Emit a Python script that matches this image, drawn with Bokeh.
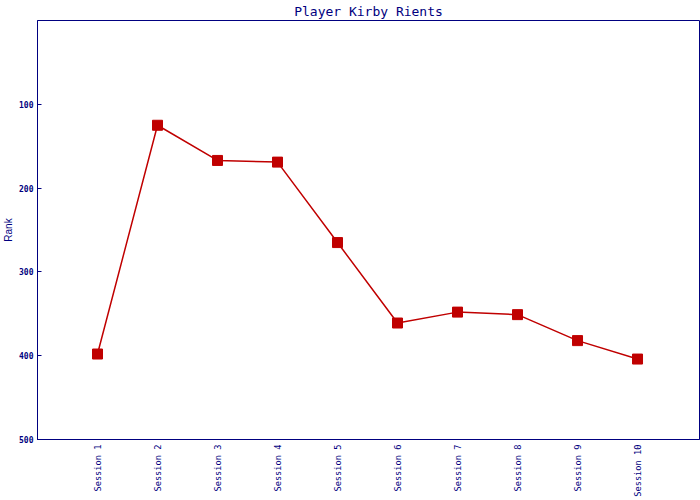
import math
from bokeh.plotting import figure
from bokeh.models import Range1d, FixedTicker
from bokeh.embed import file_html
from bokeh.resources import INLINE

sessions = [1, 2, 3, 4, 5, 6, 7, 8, 9, 10]
session_labels = ["Session %d" % s for s in sessions]
ranks = [398, 125, 167, 169, 265, 361, 348, 351, 382, 404]
y_ticks = [100, 200, 300, 400, 500]

NAVY = "#000080"
RED = "#C00000"

p = figure(width=700, height=500, output_backend="svg", toolbar_location=None,
           x_range=Range1d(0.0, 11.033), y_range=Range1d(500, 0),
           min_border_left=0, min_border_right=1, min_border_top=20, min_border_bottom=61)

p.title.text = "Player Kirby Rients"
p.title.align = "center"
p.title.text_font = "DejaVu Sans Mono"
p.title.text_font_size = "13px"
p.title.text_font_style = "normal"
p.title.text_color = NAVY
p.title.standoff = 3
p.title.offset = 0

p.xgrid.visible = False
p.ygrid.visible = False
p.outline_line_color = NAVY
p.outline_line_width = 1
p.background_fill_color = "white"
p.border_fill_color = "white"

p.xaxis.ticker = FixedTicker(ticks=sessions)
p.xaxis.major_label_overrides = {s: l for s, l in zip(sessions, session_labels)}
p.xaxis.major_label_orientation = math.pi / 2
p.xaxis.major_tick_in = 0
p.xaxis.major_tick_out = 0
p.xaxis.minor_tick_in = 0
p.xaxis.minor_tick_out = 0
p.xaxis.major_label_standoff = 5
p.xaxis.major_label_text_font = "DejaVu Sans Mono"
p.xaxis.major_label_text_font_size = "8.7px"
p.xaxis.major_label_text_color = NAVY
p.xaxis.axis_line_color = NAVY

p.yaxis.ticker = FixedTicker(ticks=y_ticks)
p.yaxis.major_tick_in = 4
p.yaxis.major_tick_out = 0
p.yaxis.minor_tick_in = 0
p.yaxis.minor_tick_out = 0
p.yaxis.major_tick_line_color = NAVY
p.yaxis.major_label_standoff = 4
p.yaxis.major_label_text_font = "DejaVu Sans Mono"
p.yaxis.major_label_text_font_size = "8px"
p.yaxis.major_label_text_font_style = "bold"
p.yaxis.major_label_text_color = NAVY
p.yaxis.axis_line_color = NAVY
p.yaxis.axis_label = "Rank"
p.yaxis.axis_label_text_font = "Liberation Sans"
p.yaxis.axis_label_text_font_size = "10px"
p.yaxis.axis_label_text_font_style = "normal"
p.yaxis.axis_label_text_color = NAVY
p.yaxis.axis_label_standoff = 2

p.line(sessions, ranks, line_color=RED, line_width=1.5)
p.scatter(sessions, ranks, marker="square", size=10, fill_color=RED, line_color=RED)

open("out.html", "w").write(file_html(p, INLINE))
